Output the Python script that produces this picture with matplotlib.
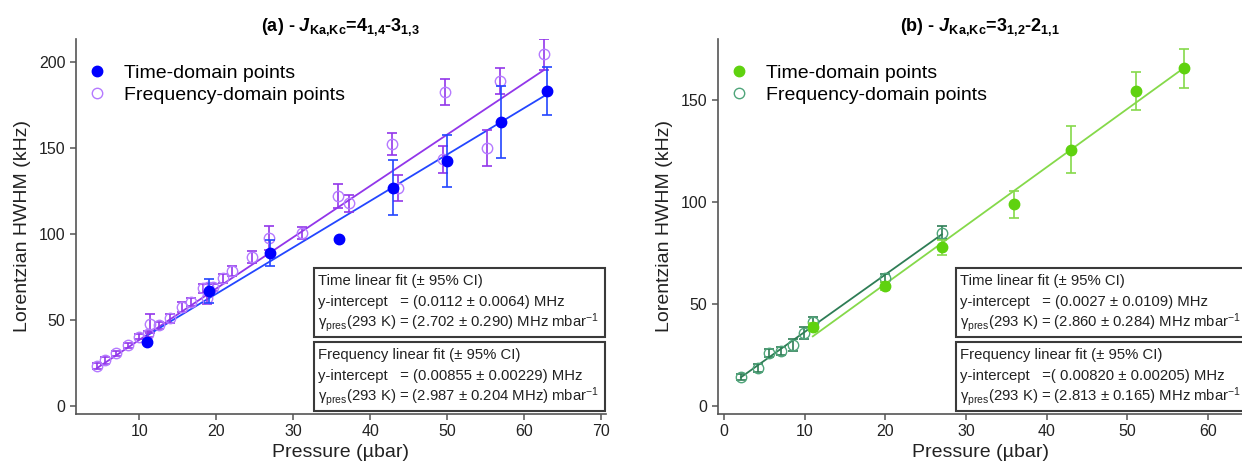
import numpy as np
import matplotlib
matplotlib.use("Agg")
import matplotlib.pyplot as plt
from matplotlib.patches import Rectangle

plt.rcParams["font.family"] = ["Liberation Sans", "DejaVu Sans"]
plt.rcParams["mathtext.fontset"] = "custom"
plt.rcParams["mathtext.rm"] = "Liberation Sans:bold"
plt.rcParams["mathtext.it"] = "Liberation Sans:bold:italic"
plt.rcParams["mathtext.bf"] = "Liberation Sans:bold"

# ---- panel (a): J = 4_1,4 - 3_1,3 ----
a_time_p = [11, 19, 27, 36, 43, 50, 57, 63]
a_time_w = [37, 67, 89, 97, 127, 142.5, 165, 183]
a_time_err = [np.nan, 7, 7.5, np.nan, 16, 15, 21, 14]

a_freq_p = [4.5, 5.6, 7.0, 8.5, 10.0, 11.2, 11.4, 12.6, 14.0, 15.5, 16.7, 18.3,
            18.8, 18.9, 19.6, 20.9, 22.1, 24.6, 26.9, 31.1, 35.8, 37.3, 42.8,
            43.6, 49.4, 49.7, 55.2, 56.8, 62.6]
a_freq_w = [23.3, 26.7, 30.8, 35.3, 40.3, 41.9, 48.0, 47.0, 51.0, 57.7, 60.6, 68.4,
            62.6, 69.0, 69.0, 74.2, 78.5, 86.4, 97.5, 100.8, 122.0, 117.8, 152.3,
            127.0, 143.4, 182.4, 150.2, 189.0, 204.5]
a_freq_err = [1.5, 2, 1.5, 1.5, 1.5, 1.5, 5.5, 2, 2.5, 3, 2.5, 2.5,
              3, 2, 2, 2.5, 3, 3.5, 7, 3.5, 7, 5, 6.5,
              7.5, 7.8, 7.5, 10.5, 7.4, 9]

# fit results (kHz, kHz/ubar)
a_time_fit = (11.2, 2.702)
a_freq_fit = (8.55, 2.987)

GP = "γ$_{\\mathregular{pres}}$"
INV = "mbar$^{\\mathregular{-1}}$"

a_box_time = ["Time linear fit (± 95% CI)",
              "y-intercept   = (0.0112 ± 0.0064) MHz",
              GP + "(293 K) = (2.702 ± 0.290) MHz " + INV]
a_box_freq = ["Frequency linear fit (± 95% CI)",
              "y-intercept   = (0.00855 ± 0.00229) MHz",
              GP + "(293 K) = (2.987 ± 0.204 MHz) " + INV]

# ---- panel (b): J = 3_1,2 - 2_1,1 ----
b_time_p = [11, 20, 27, 36, 43, 51, 57]
b_time_w = [38.6, 58.7, 77.8, 99, 125.7, 154.4, 165.5]
b_time_err = [2, 2, 3.7, 6.6, 11.6, 9.4, 9.4]

b_freq_p = [2.1, 4.25, 5.6, 7.0, 8.5, 9.95, 11.0, 20.0, 27.0]
b_freq_w = [14.1, 18.6, 25.8, 26.8, 29.9, 35.9, 41.2, 62.8, 85.0]
b_freq_err = [1.5, 2, 2, 2, 3, 3, 2.5, 2, 3.2]

b_time_fit = (2.7, 2.860)
b_freq_fit = (8.2, 2.813)

b_box_time = ["Time linear fit (± 95% CI)",
              "y-intercept   = (0.0027 ± 0.0109) MHz",
              GP + "(293 K) = (2.860 ± 0.284) MHz " + INV]
b_box_freq = ["Frequency linear fit (± 95% CI)",
              "y-intercept   =( 0.00820 ± 0.00205) MHz",
              GP + "(293 K) = (2.813 ± 0.165) MHz " + INV]

W, H = 1242, 468
fig = plt.figure(figsize=(W / 100, H / 100), dpi=100)


def px_axes(x0, x1, y_top, y_bot):
    return fig.add_axes([x0 / W, 1 - y_bot / H, (x1 - x0) / W, (y_bot - y_top) / H])


def style(ax):
    for s in ("top", "right"):
        ax.spines[s].set_visible(False)
    for s in ("left", "bottom"):
        ax.spines[s].set_color("#555555")
        ax.spines[s].set_linewidth(1.2)
    ax.tick_params(direction="out", length=4.5, width=1.1, color="#555555",
                   labelsize=11.5, labelcolor="#222222", pad=3)
    ax.set_xlabel("Pressure (µbar)", fontsize=14, color="#222222", labelpad=3)
    ax.set_ylabel("Lorentzian HWHM (kHz)", fontsize=14, color="#222222", labelpad=6)


def draw_panel(ax, tp, tw, te, fp, fw, fe, tfit, ffit, cols):
    t_mk, t_ln, f_mk, f_ln = cols
    fp_arr = np.array(fp)
    tp_arr = np.array(tp)
    xf = np.linspace(fp_arr.min(), fp_arr.max(), 50)
    xt = np.linspace(tp_arr.min(), tp_arr.max(), 50)
    ax.plot(xf, ffit[0] + ffit[1] * xf, color=f_ln, lw=1.3, zorder=2)
    ax.plot(xt, tfit[0] + tfit[1] * xt, color=t_ln, lw=1.3, zorder=2)
    ax.errorbar(fp, fw, yerr=fe, fmt="none", ecolor=f_ln, elinewidth=1.2,
                capsize=3.6, capthick=1.2, zorder=3)
    ax.plot(fp, fw, "o", ms=7.5, mfc="none", mec=f_mk, mew=1.0, zorder=4,
            label="Frequency-domain points")
    ax.errorbar(tp, tw, yerr=te, fmt="none", ecolor=t_ln, elinewidth=1.2,
                capsize=3.6, capthick=1.2, zorder=5)
    ax.plot(tp, tw, "o", ms=7.5, color=t_mk, mec=t_mk, zorder=6,
            label="Time-domain points")


def draw_box(x0, x1, y_top, y_bot, lines):
    fig.patches.append(Rectangle((x0 / W, 1 - y_bot / H), (x1 - x0) / W, (y_bot - y_top) / H,
                                 transform=fig.transFigure, fill=True, fc="white",
                                 ec="#3a3a3a", lw=1.5, zorder=10))
    for i, s in enumerate(lines):
        fig.text((x0 + 4) / W, 1 - (y_top + 13 + 21 * i) / H, s, fontsize=10.7,
                 color="#222222", va="center", ha="left", zorder=11)


# panel (a)
ax_a = px_axes(76, 606, 39, 414)
draw_panel(ax_a, a_time_p, a_time_w, a_time_err, a_freq_p, a_freq_w, a_freq_err,
           a_time_fit, a_freq_fit, ("#0000ff", "#2346ff", "#b57aff", "#9236ea"))
ax_a.set_xlim(1.8, 70.6)
ax_a.set_ylim(-4.6, 213.4)
ax_a.set_xticks(range(10, 71, 10))
ax_a.set_yticks(range(0, 201, 50))
style(ax_a)
ax_a.set_title(r"(a) - $J_{\mathrm{Ka,\!Kc}}$=4$_{\mathrm{1,\!4}}$-3$_{\mathrm{1,\!3}}$",
               fontsize=13, fontweight="bold", pad=6)
h, l = ax_a.get_legend_handles_labels()
ax_a.legend(h[::-1], l[::-1], loc="upper left", bbox_to_anchor=(87 / W, 1 - 64 / H),
            bbox_transform=fig.transFigure, frameon=False, fontsize=14,
            handlelength=1.0, handletextpad=0.9, borderpad=0, borderaxespad=0,
            labelspacing=0.25)

# panel (b)
ax_b = px_axes(718, 1242, 39, 414)
draw_panel(ax_b, b_time_p, b_time_w, b_time_err, b_freq_p, b_freq_w, b_freq_err,
           b_time_fit, b_freq_fit, ("#5fd20f", "#85d94a", "#4fa57a", "#2e7d55"))
ax_b.set_xlim(-0.75, 64.2)
ax_b.set_ylim(-3.9, 179.9)
ax_b.set_xticks(range(0, 61, 10))
ax_b.set_yticks(range(0, 151, 50))
style(ax_b)
ax_b.set_title(r"(b) - $J_{\mathrm{Ka,\!Kc}}$=3$_{\mathrm{1,\!2}}$-2$_{\mathrm{1,\!1}}$",
               fontsize=13, fontweight="bold", pad=6)
h, l = ax_b.get_legend_handles_labels()
ax_b.legend(h[::-1], l[::-1], loc="upper left", bbox_to_anchor=(729 / W, 1 - 64 / H),
            bbox_transform=fig.transFigure, frameon=False, fontsize=14,
            handlelength=1.0, handletextpad=0.9, borderpad=0, borderaxespad=0,
            labelspacing=0.25)

draw_box(314, 605, 268, 337, a_box_time)
draw_box(314, 605, 342, 411, a_box_freq)
draw_box(956, 1260, 268, 337, b_box_time)
draw_box(956, 1260, 342, 411, b_box_freq)

fig.savefig("out.png", dpi=100)
